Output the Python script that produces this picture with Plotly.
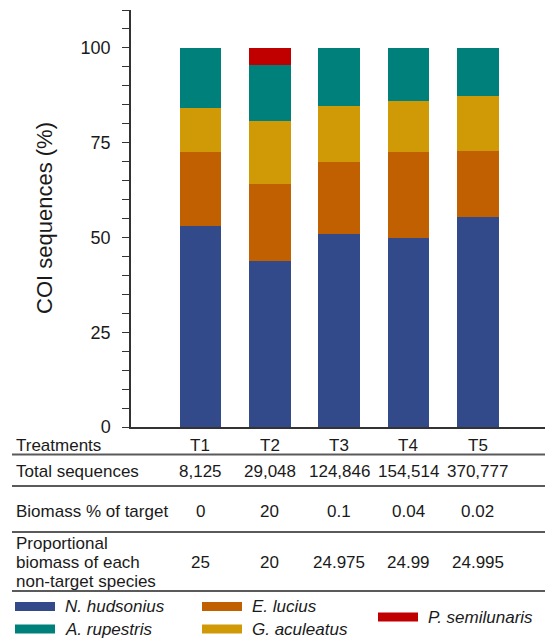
import plotly.graph_objects as go

# Treatments and relative COI read abundance (%) per species
treatments = ["T1", "T2", "T3", "T4", "T5"]
n_hudsonius = [53.1, 43.7, 50.8, 49.8, 55.3]
e_lucius = [19.4, 20.3, 19.0, 22.7, 17.5]
g_aculeatus = [11.6, 16.7, 14.9, 13.6, 14.4]
a_rupestris = [15.9, 14.8, 15.3, 13.9, 12.8]
p_semilunaris = [0, 4.5, 0, 0, 0]

# Table rows under the chart
total_sequences = ["8,125", "29,048", "124,846", "154,514", "370,777"]
biomass_target = ["0", "20", "0.1", "0.04", "0.02"]
biomass_nontarget = ["25", "20", "24.975", "24.99", "24.995"]

series = [
    ("N. hudsonius", n_hudsonius, "#334A8A"),
    ("E. lucius", e_lucius, "#C06000"),
    ("G. aculeatus", g_aculeatus, "#D09A06"),
    ("A. rupestris", a_rupestris, "#00807A"),
    ("P. semilunaris", p_semilunaris, "#C00000"),
]

W, H = 545, 638
L, R, T, B = 131, 0, 10, 211
PW, PH = W - L - R, H - T - B
FONT = "Liberation Sans, Arial, sans-serif"
INK = "#1a1a1a"


def px_x(x):
    return (x - L) / PW


def px_y(y):
    return (H - B - y) / PH


fig = go.Figure()
for name, vals, color in series:
    fig.add_trace(go.Bar(
        x=treatments, y=vals, name=name,
        marker=dict(color=color, line=dict(width=0)),
        showlegend=False,
    ))

annotations = []
shapes = []

# y-axis title
annotations.append(dict(
    text="COI sequences (%)", textangle=-90,
    x=px_x(44), y=px_y(218), xref="paper", yref="paper",
    xanchor="center", yanchor="middle", showarrow=False,
    font=dict(family=FONT, size=22, color=INK),
))

# table: row labels
row_font = dict(family=FONT, size=17, color=INK)
row_labels = [
    ("Treatments", 445),
    ("Total sequences", 471),
    ("Biomass % of target", 511),
    ("Proportional", 543),
    ("biomass of each", 562),
    ("non-target species", 581),
]
for txt, yy in row_labels:
    annotations.append(dict(
        text=txt, x=px_x(14), y=px_y(yy), xref="paper", yref="paper",
        xanchor="left", yanchor="middle", showarrow=False, font=row_font,
    ))

# table: cells, one column per treatment
rows = [(treatments, 445), (total_sequences, 471),
        (biomass_target, 511), (biomass_nontarget, 562)]
for vals, yy in rows:
    for cat, v in zip(treatments, vals):
        annotations.append(dict(
            text=v, x=cat, y=px_y(yy), xref="x", yref="paper",
            xanchor="center", yanchor="middle", showarrow=False, font=row_font,
        ))

# table rules
for yy in [454.5, 486, 532, 591]:
    shapes.append(dict(
        type="line", xref="paper", yref="paper",
        x0=px_x(12), x1=px_x(W), y0=px_y(yy), y1=px_y(yy),
        line=dict(color="#5a5a5a", width=2),
    ))

# legend
leg_font = dict(family=FONT, size=17, color=INK)
legend_items = [
    ("N. hudsonius", "#334A8A", 15, 606.5),
    ("A. rupestris", "#00807A", 15, 629),
    ("E. lucius", "#C06000", 202, 606.5),
    ("G. aculeatus", "#D09A06", 202, 629),
    ("P. semilunaris", "#C00000", 378, 617),
]
for name, color, x0, yc in legend_items:
    shapes.append(dict(
        type="rect", xref="paper", yref="paper",
        x0=px_x(x0), x1=px_x(x0 + 40), y0=px_y(yc - 4.5), y1=px_y(yc + 4.5),
        fillcolor=color, line=dict(width=0),
    ))
    annotations.append(dict(
        text="<i>%s</i>" % name, x=px_x(x0 + 48), y=px_y(yc),
        xref="paper", yref="paper", xanchor="left", yanchor="middle",
        showarrow=False, font=leg_font,
    ))

fig.update_layout(
    width=W, height=H,
    margin=dict(l=L, r=R, t=T, b=B, autoexpand=False),
    paper_bgcolor="white", plot_bgcolor="white",
    barmode="stack", bargap=0.4,
    annotations=annotations, shapes=shapes,
    font=dict(family=FONT, color=INK),
    xaxis=dict(
        type="category", range=[-1, 4.97],
        showline=True, linecolor="#333333", linewidth=1.5,
        showticklabels=False, ticks="", showgrid=False, zeroline=False,
    ),
    yaxis=dict(
        range=[0, 110], tickmode="array", tickvals=[0, 25, 50, 75, 100],
        showline=True, linecolor="#333333", linewidth=1.5,
        ticks="outside", ticklen=7, tickcolor="#333333", tickwidth=1,
        minor=dict(dtick=5, ticks="outside", ticklen=7,
                   tickcolor="#333333", tickwidth=1, showgrid=False),
        tickfont=dict(family=FONT, size=18, color=INK),
        ticklabelstandoff=8,
        showgrid=False, zeroline=False,
    ),
)

fig.write_html("out.html")
